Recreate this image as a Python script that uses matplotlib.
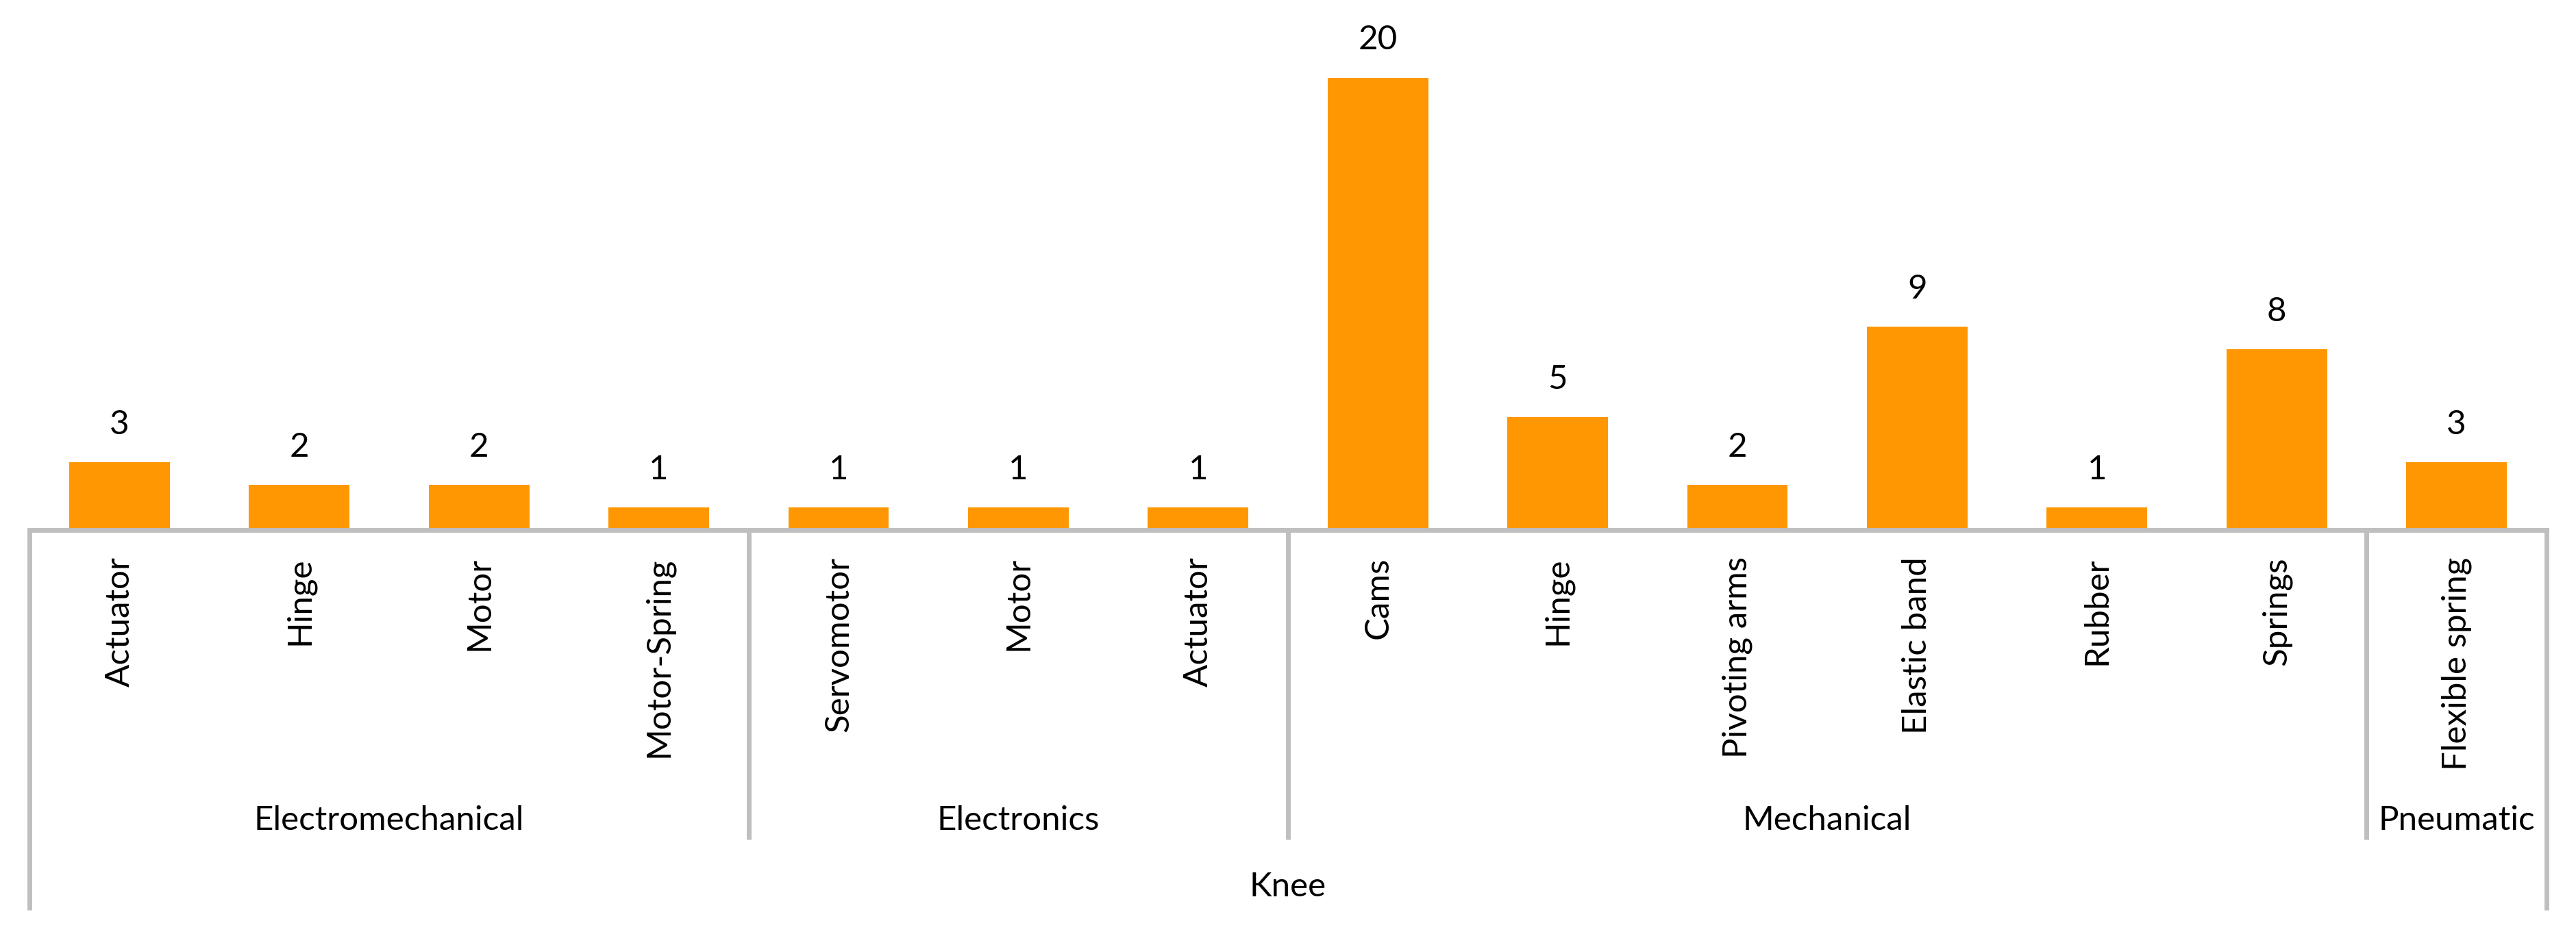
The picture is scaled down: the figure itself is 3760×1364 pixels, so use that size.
import matplotlib.pyplot as plt
from matplotlib.transforms import blended_transform_factory

plt.rcParams['font.family'] = ['Lato', 'DejaVu Sans']

labels = ['Actuator', 'Hinge', 'Motor', 'Motor-Spring',
          'Servomotor', 'Motor', 'Actuator',
          'Cams', 'Hinge', 'Pivoting arms', 'Elastic band', 'Rubber', 'Springs',
          'Flexible spring']
counts = [3, 2, 2, 1, 1, 1, 1, 20, 5, 2, 9, 1, 8, 3]
groups = ['Electromechanical', 'Electronics', 'Mechanical', 'Pneumatic']
group_sizes = [4, 3, 6, 1]
top_label = 'Knee'

bar_color = '#FF9702'
line_color = '#BFBFBF'
fs = 35.5

fig = plt.figure(figsize=(37.6, 13.64), dpi=100)
ax = fig.add_axes([0.0115, 0.4323, 0.977, 0.5497])

x = list(range(len(counts)))
ax.bar(x, counts, width=0.56, color=bar_color, zorder=2)
for xi, v in zip(x, counts):
    ax.annotate(str(v), (xi, v), xytext=(0, 40), textcoords='offset points',
                ha='center', va='center', fontsize=fs)

ax.set_xlim(-0.5, len(counts) - 0.5)
ax.set_ylim(0, 22.7)
ax.set_yticks([])
ax.set_xticks(x)
ax.set_xticklabels(labels, rotation=90, fontsize=fs)
ax.tick_params(axis='x', length=0, pad=28)
for s in ['top', 'right', 'left']:
    ax.spines[s].set_visible(False)
ax.spines['bottom'].set_color(line_color)
ax.spines['bottom'].set_linewidth(5)

tr = blended_transform_factory(ax.transData, ax.transAxes)
# group separators and labels
start = 0
for g, n in zip(groups, group_sizes):
    end = start + n
    ax.text((start + end - 1) / 2, -0.565, g, transform=tr, ha='center',
            va='center', fontsize=fs)
    if end < len(counts):
        ax.plot([end - 0.5, end - 0.5], [0, -0.603], transform=tr,
                color=line_color, lw=5, clip_on=False, solid_capstyle='butt')
    start = end

for xe in [-0.5, len(counts) - 0.5]:
    ax.plot([xe, xe], [0, -0.74], transform=tr, color=line_color, lw=5,
            clip_on=False, solid_capstyle='butt')
ax.text((len(counts) - 1) / 2, -0.695, top_label, transform=tr, ha='center',
        va='center', fontsize=fs)

plt.savefig('out.png', dpi=100)
